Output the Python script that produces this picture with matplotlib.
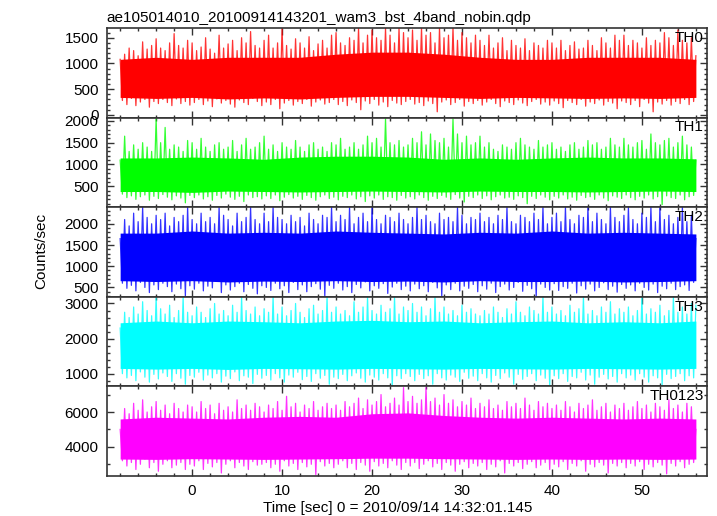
import numpy as np
import matplotlib
matplotlib.use("Agg")
import matplotlib.pyplot as plt
from matplotlib.ticker import MultipleLocator

plt.rcParams['font.family'] = ['Liberation Sans', 'DejaVu Sans']

title = 'ae105014010_20100914143201_wam3_bst_4band_nobin.qdp'
xlabel = 'Time [sec] 0 = 2010/09/14 14:32:01.145'
ylabel = 'Counts/sec'

t_start, t_end = -8.0, 56.0

bands = ['TH0', 'TH1', 'TH2', 'TH3', 'TH0123']
colors = ['#ff0000', '#00ff00', '#0000ff', '#00ffff', '#ff00ff']
ylims = [(-53, 1689), (20, 2075), (280, 2390), (637, 3190), (2326, 7469)]
yticks = [(500, 100), (500, 100), (500, 100), (1000, 200), (2000, 1000)]

# spike tips: upper tips every 0.5 s, lower tips in between
th0_up = [1080, 1180, 1300, 1250, 1150, 1420, 1280, 1350, 1480, 1300, 1250, 1400, 1580, 1350, 1300, 1450,
          1400, 1250, 1320, 1500, 1280, 1200, 1550, 1300, 1380, 1450, 1250, 1500, 1400, 1620, 1350, 1300,
          1450, 1550, 1300, 1400, 1690, 1350, 1280, 1480, 1400, 1300, 1520, 1250, 1380, 1450, 1300, 1550,
          1600, 1400, 1350, 1500, 1450, 1690, 1400, 1550, 1650, 1500, 1450, 1690, 1550, 1400, 1690, 1600,
          1500, 1650, 1450, 1690, 1550, 1600, 1400, 1690, 1500, 1550, 1690, 1450, 1600, 1500, 1400, 1550,
          1450, 1350, 1550, 1300, 1400, 1500, 1250, 1450, 1350, 1300, 1480, 1250, 1400, 1350, 1300, 1450,
          1400, 1300, 1450, 1250, 1350, 1420, 1280, 1300, 1450, 1350, 1250, 1500, 1400, 1300, 1550, 1450,
          1550, 1350, 1450, 1400, 1300, 1500, 1350, 1450, 1400, 1600, 1500, 1350, 1650, 1450, 1400, 1500,
          1150]
th0_lo = [280, 200, 320, 180, 250, 300, 150, 260, 220, 300, 240, 180, 310, 220, 260, 190,
          240, 300, 200, 270, 160, 310, 230, 280, 210, 150, 290, 240, 200, 320, 260, 180,
          250, 200, 300, 120, 230, 280, 190, 260, 220, 300, 170, 250, 290, 210, 240, 300,
          200, 260, 180, 290, 240, 100, 270, 220, 300, 190, 250, 160, 280, 230, 200, 260,
          300, 210, 240, 180, 270, 220, 60, 250, 290, 200, 240, 300, 170, 260, 220, 280,
          190, 250, 300, 220, 160, 270, 240, 200, 290, 230, 180, 260, 300, 210, 250, 190,
          270, 220, 140, 280, 240, 200, 300, 170, 250, 220, 290, 190, 260, 230, 120, 270,
          240, 200, 280, 160, 300, 230, 60, 250, 210, 280, 190, 260, 220, 300, 200, 260]
th0_core_hi = [1080, 1120, 1080, 1120, 1120, 1120, 1180, 1220, 1220, 1180, 1120, 1080, 1080, 1120, 1120, 1120, 1080]
th0_core_lo = [340, 320, 340, 310, 330, 310, 340, 360, 360, 340, 320, 340, 330, 320, 330, 320, 340]

th1_up = [1100, 1650, 1300, 1450, 1350, 1500, 1400, 1300, 2050, 1500, 1850, 1350, 1450, 1400, 1300, 1550,
          1500, 1350, 1600, 1400, 1300, 1450, 1500, 1350, 1400, 1550, 1300, 1450, 1600, 1350, 1400, 1500,
          1650, 1350, 1450, 1300, 1500, 1400, 1350, 1550, 1400, 1300, 1450, 1500, 1350, 1400, 1300, 1500,
          1450, 1600, 1350, 1400, 1500, 1350, 1450, 1650, 1500, 1600, 1400, 2050, 1500, 1450, 1550, 1400,
          1450, 1600, 1500, 1750, 1450, 1700, 1550, 1500, 1600, 1400, 2050, 1700, 1500, 1650, 1450, 1500,
          1650, 1400, 1500, 1350, 1300, 1450, 1400, 1350, 1500, 1600, 1450, 1400, 1350, 1550, 1400, 1450,
          1500, 1350, 1400, 1300, 1450, 1500, 1350, 1400, 1550, 1450, 1500, 1350, 1400, 1600, 1450, 1400,
          1600, 1450, 1400, 1500, 1550, 1350, 1700, 1500, 1450, 1550, 1600, 1400, 1500, 1650, 1450, 1400,
          1100]
th1_lo = [320, 240, 280, 200, 260, 300, 180, 270, 220, 310, 250, 190, 280, 230, 120, 290,
          240, 300, 210, 260, 180, 290, 230, 320, 250, 200, 270, 150, 300, 240, 260, 210,
          280, 220, 300, 170, 250, 310, 230, 270, 200, 290, 240, 180, 260, 300, 220, 250,
          190, 270, 240, 300, 210, 260, 150, 280, 230, 300, 200, 260, 240, 180, 290, 230,
          260, 210, 300, 240, 180, 270, 220, 290, 250, 200, 310, 230, 140, 270, 240, 300,
          220, 280, 190, 260, 300, 230, 250, 200, 280, 240, 100, 270, 220, 300, 250, 190,
          270, 230, 300, 210, 250, 180, 290, 240, 260, 200, 300, 230, 170, 280, 250, 220,
          300, 240, 190, 270, 230, 300, 210, 260, 80, 280, 240, 220, 300, 190, 260, 290]
th1_core_hi = [1150, 1150, 1170, 1150, 1120, 1170, 1190, 1190, 1170, 1120, 1150, 1120, 1150, 1170, 1150, 1150, 1130]
th1_core_lo = [380, 380, 360, 390, 380, 370, 380, 390, 380, 370, 390, 380, 380, 370, 380, 390, 380]

th2_up = [1650, 2100, 1950, 2250, 2050, 2390, 2150, 2000, 2200, 2100, 2250, 1950, 2150, 2050, 2200, 2390,
          2100, 2000, 2250, 2050, 2150, 2000, 2390, 2200, 2100, 1950, 2250, 2050, 2150, 2390, 2100, 2000,
          2250, 2050, 2390, 2150, 2100, 2000, 2200, 2050, 2150, 1950, 2250, 2100, 2000, 2200, 2150, 2390,
          2050, 2200, 2100, 2390, 2000, 2150, 2250, 2050, 2390, 2100, 2000, 2200, 2150, 2050, 2250, 2100,
          2000, 2150, 2390, 2100, 2200, 2050, 2000, 2250, 2100, 2150, 2050, 2390, 2200, 2000, 2150, 2100,
          2250, 2050, 2150, 2000, 2200, 2100, 2390, 2050, 2000, 2200, 2150, 2050, 2250, 2100, 2390, 2000,
          2150, 2250, 2050, 2390, 2100, 2000, 2200, 2150, 2390, 2050, 2250, 2100, 2000, 2390, 2150, 2050,
          2200, 2390, 2100, 2000, 2250, 2150, 2390, 2050, 2390, 2100, 2200, 2000, 2150, 2390, 2050, 2200,
          1650]
th2_lo = [600, 480, 550, 420, 620, 500, 380, 560, 450, 600, 520, 400, 580, 470, 300, 540,
          460, 600, 420, 530, 490, 650, 380, 560, 440, 520, 600, 400, 570, 480, 350, 540,
          500, 430, 600, 470, 540, 380, 620, 450, 560, 400, 520, 590, 460, 300, 550, 480,
          600, 440, 520, 380, 570, 490, 630, 420, 540, 480, 590, 360, 510, 600, 450, 530,
          420, 580, 470, 540, 400, 620, 490, 300, 560, 450, 600, 420, 530, 480, 570, 400,
          540, 460, 600, 380, 520, 580, 440, 500, 620, 410, 550, 470, 290, 580, 500, 440,
          590, 430, 520, 480, 600, 370, 540, 460, 580, 420, 500, 610, 450, 530, 390, 570,
          480, 560, 420, 600, 500, 440, 580, 380, 530, 470, 600, 450, 520, 560, 430, 620]
th2_core_hi = [1780, 1780, 1830, 1780, 1800, 1780, 1830, 1800, 1780, 1760, 1800, 1780, 1830, 1780, 1800, 1780, 1760]
th2_core_lo = [660, 640, 660, 630, 650, 640, 660, 640, 650, 630, 660, 640, 640, 650, 630, 640, 660]

th3_up = [2300, 2750, 2600, 2900, 2700, 3050, 2800, 2650, 3190, 2850, 2700, 2950, 2600, 2800, 3190, 2750,
          2650, 2900, 2750, 2600, 2850, 3000, 2700, 2800, 2650, 2950, 2750, 3190, 2800, 2700, 2900, 2650,
          2850, 2750, 3190, 2700, 2900, 2650, 2800, 3000, 2750, 2600, 2850, 2950, 2700, 2800, 3190, 2750,
          2900, 2700, 2800, 2650, 3050, 2750, 2900, 3190, 2800, 2700, 2950, 2750, 2850, 3190, 2700, 2900,
          2800, 3000, 2750, 2900, 2650, 2850, 3190, 2750, 2900, 2700, 2800, 2650, 2950, 2750, 2850, 2700,
          2650, 2800, 2700, 2900, 2750, 2600, 2850, 2700, 3050, 2750, 2650, 2900, 2800, 2700, 3190, 2750,
          2900, 2700, 2800, 2650, 2950, 2750, 2850, 3190, 2700, 2800, 2650, 2900, 2750, 3050, 2700, 2850,
          2750, 2900, 2650, 2800, 3190, 2700, 2850, 2750, 2950, 2650, 2800, 3190, 2750, 2900, 2700, 3000,
          2950]
th3_lo = [1000, 880, 950, 800, 1050, 900, 760, 980, 850, 1020, 920, 780, 1000, 870, 700, 950,
          900, 1040, 820, 960, 880, 1000, 760, 930, 860, 1050, 800, 940, 900, 720, 980, 870,
          950, 820, 1000, 880, 760, 960, 900, 1040, 830, 920, 780, 1000, 870, 950, 700, 900,
          860, 980, 800, 940, 1020, 870, 760, 960, 900, 820, 1000, 880, 650, 940, 860, 1000,
          920, 800, 980, 860, 940, 700, 1000, 880, 820, 960, 900, 780, 1040, 870, 930, 800,
          1000, 880, 760, 950, 860, 1020, 900, 700, 980, 840, 920, 1000, 800, 960, 870, 650,
          940, 860, 1000, 780, 920, 880, 1040, 820, 960, 700, 900, 980, 850, 920, 760, 1000,
          880, 960, 820, 1000, 900, 760, 940, 880, 680, 980, 860, 920, 1000, 800, 940, 880]
th3_core_hi = [2450, 2500, 2450, 2500, 2480, 2450, 2500, 2520, 2480, 2500, 2450, 2480, 2500, 2450, 2480, 2450, 2500]
th3_core_lo = [1150, 1130, 1150, 1120, 1150, 1140, 1130, 1150, 1140, 1130, 1150, 1140, 1130, 1150, 1140, 1130, 1150]

th0123_up = [5000, 6200, 5900, 6500, 6100, 6700, 6000, 6300, 6600, 6100, 6400, 5900, 6500, 6200, 6000, 6400,
             6300, 6000, 6600, 6200, 6400, 5900, 6500, 6100, 6300, 6000, 6700, 6200, 6400, 6100, 6500, 6300,
             6000, 6400, 6200, 6600, 6100, 6900, 6300, 6500, 6000, 6400, 6200, 6600, 6100, 6300, 6500, 6200,
             6400, 6100, 6600, 6300, 6500, 6800, 6200, 6700, 6400, 6600, 7000, 6300, 6500, 6800, 6400, 7400,
             6600, 6900, 6500, 6700, 7400, 6600, 6800, 6400, 7000, 6500, 6700, 6300, 6600, 6400, 6800, 6200,
             6500, 6300, 6700, 6200, 6400, 6100, 6600, 6300, 6500, 6200, 6800, 6400, 6100, 6600, 6300, 6500,
             6200, 6400, 6100, 6600, 6300, 6000, 6500, 6200, 6400, 6700, 6100, 6300, 6500, 6000, 6400, 6200,
             6500, 6100, 6300, 6600, 6200, 6400, 6000, 6500, 6300, 6100, 6700, 6200, 6400, 6000, 6500, 6300,
             5000]
th0123_lo = [3200, 2900, 3100, 2700, 3000, 3300, 2800, 3100, 2600, 3000, 3200, 2800, 2950, 3100, 2700, 3000,
             2900, 3200, 2700, 3050, 2850, 3100, 2500, 3000, 3200, 2800, 3100, 2900, 2700, 3150, 2950, 3000,
             3100, 2800, 3000, 2600, 3200, 2900, 3050, 2700, 3100, 2850, 3000, 2400, 3150, 2900, 3050, 2800,
             3000, 3200, 2800, 3050, 2700, 3100, 2950, 2600, 3150, 2900, 3050, 2800, 3200, 2950, 2700, 3100,
             2900, 3100, 2750, 3000, 3200, 2850, 3050, 2700, 3100, 2950, 2600, 3000, 3150, 2800, 3050, 2900,
             3100, 2700, 3000, 2850, 3200, 2500, 3050, 2900, 3100, 2750, 3000, 3150, 2800, 2950, 3100, 2700,
             3000, 2850, 3150, 2700, 3050, 2900, 3200, 2600, 3000, 2850, 3100, 2950, 2500, 3050, 2900, 3100,
             2800, 3050, 2900, 3150, 2700, 3000, 2850, 3100, 2950, 2450, 3050, 2900, 3150, 2800, 3000, 3100]
th0123_core_hi = [5600, 5700, 5650, 5600, 5700, 5750, 5700, 5900, 5950, 5800, 5700, 5650, 5700, 5650, 5600, 5650, 5600]
th0123_core_lo = [3300, 3280, 3320, 3300, 3280, 3300, 3320, 3350, 3350, 3320, 3300, 3280, 3300, 3280, 3300, 3280, 3300]

ups = [th0_up, th1_up, th2_up, th3_up, th0123_up]
los = [th0_lo, th1_lo, th2_lo, th3_lo, th0123_lo]
core_his = [th0_core_hi, th1_core_hi, th2_core_hi, th3_core_hi, th0123_core_hi]
core_los = [th0_core_lo, th1_core_lo, th2_core_lo, th3_core_lo, th0123_core_lo]

fig = plt.figure(figsize=(7.17, 5.16), dpi=100)
gs = fig.add_gridspec(5, 1, left=0.149, right=0.9856, top=0.9457, bottom=0.0775, hspace=0)
axs = [fig.add_subplot(gs[i]) for i in range(5)]

for i, ax in enumerate(axs):
    up = np.array(ups[i], dtype=float)
    lo = np.array(los[i], dtype=float)
    t_up = np.linspace(t_start, t_end, len(up))
    t_lo = t_up[:-1] + (t_up[1] - t_up[0]) / 2
    # zigzag through the tips, like the binned light curve
    xs = np.empty(len(up) + len(lo))
    ys = np.empty(len(up) + len(lo))
    xs[0::2], ys[0::2] = t_up, up
    xs[1::2], ys[1::2] = t_lo, lo
    t_core = np.linspace(t_start, t_end, len(core_his[i]))
    ax.fill_between(t_core, core_los[i], core_his[i], color=colors[i], lw=0)
    ax.plot(xs, ys, color=colors[i], lw=0.9, alpha=0.8)

    ax.set_xlim(-9.48, 57.2)
    ax.set_ylim(*ylims[i])
    ax.xaxis.set_major_locator(MultipleLocator(10))
    ax.xaxis.set_minor_locator(MultipleLocator(2))
    ax.yaxis.set_major_locator(MultipleLocator(yticks[i][0]))
    ax.yaxis.set_minor_locator(MultipleLocator(yticks[i][1]))
    ax.tick_params(which='both', direction='in', top=True, right=True, labelsize=11,
                   color='#333333', width=1)
    ax.tick_params(which='major', length=5, pad=6)
    ax.tick_params(which='minor', length=2.5)
    for s in ax.spines.values():
        s.set_color('#333333')
        s.set_linewidth(1.2)
    if i < 4:
        ax.tick_params(labelbottom=False)
    ax.text(0.995, 0.89, bands[i], transform=ax.transAxes, ha='right', va='center', fontsize=11)

axs[0].set_title(title, loc='left', fontsize=11, pad=4)
fig.text(0.058, 0.513, ylabel, rotation=90, ha='center', va='center', fontsize=11)
fig.text(0.554, 0.016, xlabel, ha='center', va='center', fontsize=11)

fig.savefig('out.png', dpi=100)
